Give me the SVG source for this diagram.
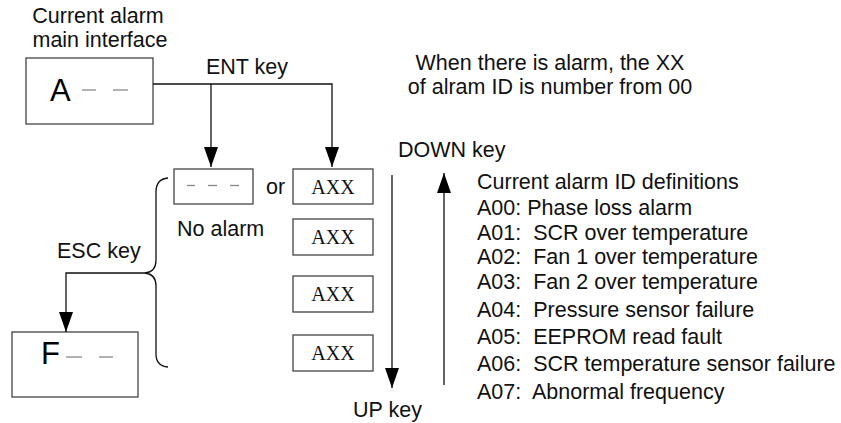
<svg xmlns="http://www.w3.org/2000/svg" width="841" height="423" viewBox="0 0 841 423">
<defs>
<style>
.t{font-family:"Liberation Sans",Arial,sans-serif;font-size:21.5px;fill:#111;white-space:pre}
.big{font-family:"Liberation Sans",Arial,sans-serif;font-size:31px;fill:#000}
.ser{font-family:"Liberation Serif","Times New Roman",serif;font-size:20px;fill:#111;text-anchor:middle}
.box{fill:#fff;stroke:#444;stroke-width:1.3}
.dash{stroke:#888;stroke-width:1.3}
.ln{fill:none;stroke:#111;stroke-width:1.3}
</style>
<marker id="ah" markerUnits="userSpaceOnUse" markerWidth="20" markerHeight="14" refX="20" refY="7" orient="auto">
<path d="M0,0 L20,7 L0,14 z" fill="#000"/>
</marker>
</defs>
<rect width="841" height="423" fill="#fff"/>
<g id="labels">
<text class="t" x="98" y="23" text-anchor="middle">Current alarm</text>
<text class="t" x="100" y="47" text-anchor="middle">main interface</text>
<text class="t" x="206" y="74">ENT key</text>
<text class="t" x="550" y="70" text-anchor="middle">When there is alarm, the XX</text>
<text class="t" x="550" y="94" text-anchor="middle">of alram ID is number from 00</text>
<text class="t" x="266" y="194">or</text>
<text class="t" x="177" y="236">No alarm</text>
<text class="t" x="57" y="258">ESC key</text>
<text class="t" x="398" y="157">DOWN key</text>
<text class="t" x="353" y="417">UP key</text>
</g>
<g id="node-main">
<rect class="box" x="26" y="58" width="127" height="66"/>
<text class="big" x="50" y="101">A</text>
<line class="dash" x1="82" y1="90" x2="96" y2="90"/>
<line class="dash" x1="113" y1="90" x2="128" y2="90"/>
</g>
<g id="node-noalarm">
<rect class="box" x="174" y="169" width="79" height="35"/>
<line class="dash" x1="187" y1="185.5" x2="195" y2="185.5"/>
<line class="dash" x1="208" y1="185.5" x2="217" y2="185.5"/>
<line class="dash" x1="230" y1="185.5" x2="239" y2="185.5"/>
</g>
<g id="node-axx1">
<rect class="box" x="293" y="169" width="80" height="35"/>
<text class="ser" x="333" y="194">AXX</text>
</g>
<g id="node-axx2">
<rect class="box" x="293" y="219" width="80" height="36"/>
<text class="ser" x="333" y="244">AXX</text>
</g>
<g id="node-axx3">
<rect class="box" x="293" y="276" width="80" height="36"/>
<text class="ser" x="333" y="301">AXX</text>
</g>
<g id="node-axx4">
<rect class="box" x="293" y="335" width="80" height="36"/>
<text class="ser" x="333" y="360">AXX</text>
</g>
<g id="node-f">
<rect class="box" x="12" y="332" width="126" height="65"/>
<text class="big" x="41" y="364">F</text>
<line class="dash" x1="66" y1="357" x2="82" y2="357"/>
<line class="dash" x1="99" y1="357" x2="113" y2="357"/>
</g>
<g id="definitions">
<text class="t" x="477" y="189">Current alarm ID definitions</text>
<text class="t" x="477" y="215">A00: Phase loss alarm</text>
<text class="t" x="477" y="240">A01:  SCR over temperature</text>
<text class="t" x="477" y="264">A02:  Fan 1 over temperature</text>
<text class="t" x="477" y="289">A03:  Fan 2 over temperature</text>
<text class="t" x="477" y="317">A04:  Pressure sensor failure</text>
<text class="t" x="477" y="344">A05:  EEPROM read fault</text>
<text class="t" x="477" y="371">A06:  SCR temperature sensor failure</text>
<text class="t" x="477" y="399">A07:  Abnormal frequency</text>
</g>
<g id="connectors">
<path class="ln" d="M153,84 H332 V167" marker-end="url(#ah)"/>
<path class="ln" d="M211,84 V167" marker-end="url(#ah)"/>
<path class="ln" d="M392,175 V388" marker-end="url(#ah)"/>
<path class="ln" d="M444,385 V173" marker-end="url(#ah)"/>
<path class="ln" d="M146,273 H66 V332" marker-end="url(#ah)"/>
<path class="ln" stroke="#333" d="M168,178 Q156,179 156,192 V260 Q156,272 145,273 Q156,274 156,286 V354 Q156,366 168,367"/>
</g>
</svg>
